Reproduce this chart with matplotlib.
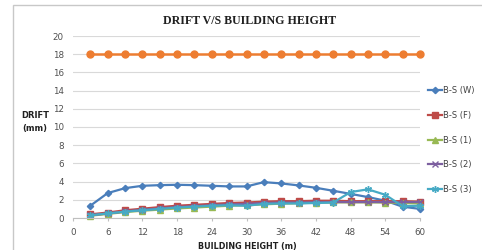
import numpy as np
import matplotlib
matplotlib.use("Agg")
import matplotlib.pyplot as plt
from matplotlib.patches import Rectangle

# building height (m)
height = [3, 6, 9, 12, 15, 18, 21, 24, 27, 30, 33, 36, 39, 42, 45, 48, 51, 54, 57, 60]

# drift (mm)
limit = [18] * 20
bs_w = [1.35, 2.74, 3.28, 3.54, 3.61, 3.65, 3.61, 3.54, 3.47, 3.47,
        3.94, 3.80, 3.58, 3.32, 2.99, 2.65, 2.30, 1.90, 1.24, 1.00]
bs_f = [0.40, 0.60, 0.85, 1.02, 1.20, 1.35, 1.45, 1.55, 1.65, 1.70,
        1.80, 1.85, 1.85, 1.90, 1.90, 1.85, 1.85, 1.85, 1.85, 1.80]
bs_1 = [0.25, 0.45, 0.65, 0.80, 0.92, 1.05, 1.15, 1.25, 1.35, 1.40,
        1.50, 1.58, 1.62, 1.70, 1.72, 1.72, 1.72, 1.70, 1.65, 1.60]
bs_2 = [0.30, 0.50, 0.72, 0.90, 1.05, 1.20, 1.30, 1.40, 1.50, 1.55,
        1.65, 1.70, 1.70, 1.75, 1.75, 1.75, 1.75, 1.75, 1.75, 1.75]
bs_3 = [0.30, 0.50, 0.70, 0.85, 1.00, 1.15, 1.25, 1.35, 1.40, 1.35,
        1.55, 1.60, 1.60, 1.65, 1.70, 2.85, 3.15, 2.55, 1.30, 1.35]

xticks = np.arange(0, 61, 6)
yticks = np.arange(0, 21, 2)

fig = plt.figure(figsize=(4.82, 2.5), dpi=100)
ax = fig.add_axes([73/482, 1-218/250, 347/482, 182/250])

# chart border (cut at the right and bottom like the source)
fig.patches.append(Rectangle((13/482, -0.2), 1.2, 1.2 - 5/250,
                             transform=fig.transFigure, fill=False,
                             edgecolor="#c8c8c8", linewidth=1.0))

ax.plot(height, limit, color="#ED7D31", marker="o", markersize=5, lw=1.8, label="_nolegend_")
ax.plot(height, bs_w, color="#4A7EBB", marker="D", markersize=3.2, lw=1.6, label="B-S (W)")
ax.plot(height, bs_f, color="#BE4B48", marker="s", markersize=4.5, lw=1.6, label="B-S (F)")
ax.plot(height, bs_1, color="#98B954", marker="^", markersize=4, lw=1.6, label="B-S (1)")
ax.plot(height, bs_2, color="#7D60A0", marker="x", markersize=4, lw=1.6, label="B-S (2)")
ax.plot(height, bs_3, color="#46AAC5", marker=(6, 2, 0), markersize=5, lw=1.6, label="B-S (3)")

ax.set_xlim(0, 60)
ax.set_ylim(0, 20)
ax.set_xticks(xticks)
ax.set_yticks(yticks)
ax.tick_params(axis="both", labelsize=6.3, colors="#505050", length=0)
ax.tick_params(axis="x", length=2.5, color="#bfbfbf", pad=4.5)
ax.tick_params(axis="y", pad=6.5)
ax.grid(axis="y", color="#d9d9d9", lw=0.8)
ax.set_axisbelow(True)
for s in ["top", "right", "left"]:
    ax.spines[s].set_visible(False)
ax.spines["bottom"].set_color("#bfbfbf")
for l in ax.lines:
    l.set_clip_on(False)

fig.text(250/482, 1-21/250, "DRIFT V/S BUILDING HEIGHT", family="Liberation Serif",
         weight="bold", fontsize=8.6, ha="center", va="center", color="#202020")
fig.text(35/482, 1-122/250, "DRIFT\n(mm)", fontsize=6, weight="bold",
         ha="center", va="center", color="#202020", linespacing=1.6)
fig.text(247/482, 1-246/250, "BUILDING HEIGHT (m)", fontsize=5.8, weight="bold",
         ha="center", va="center", color="#202020")

leg = ax.legend(loc="center left", bbox_to_anchor=(425/482, 1-140/250),
                bbox_transform=fig.transFigure, frameon=False, fontsize=6,
                labelspacing=1.9, handlelength=1.6, handletextpad=0.2,
                borderaxespad=0)
for t in leg.get_texts():
    t.set_color("#404040")

fig.savefig("out.png", dpi=100)
